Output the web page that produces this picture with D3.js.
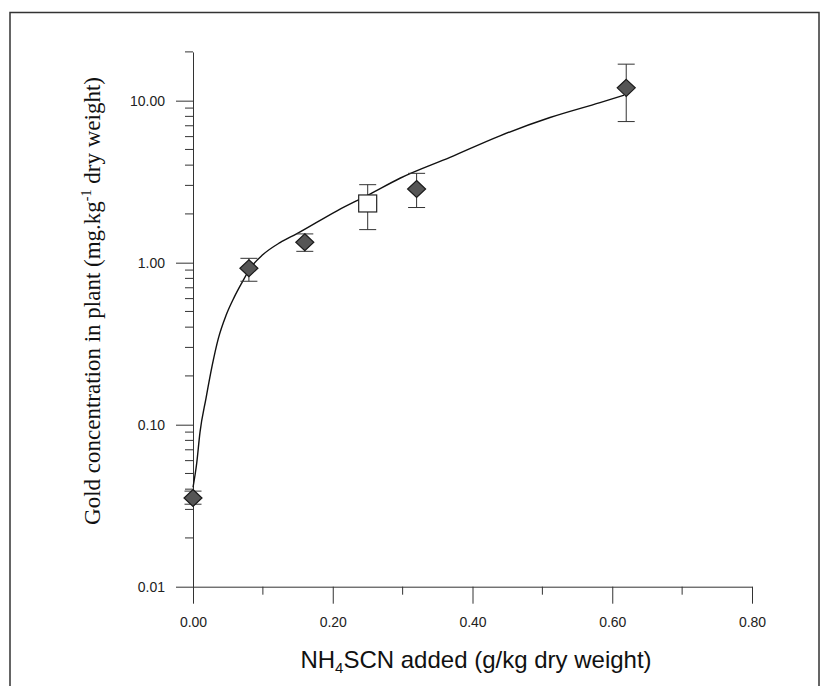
<!DOCTYPE html>
<html>
<head>
<meta charset="utf-8">
<script src="https://cdn.jsdelivr.net/npm/d3@7"></script>
<style>
  body { margin: 0; background: #fff; }
  svg { display: block; }
  .tick text { font-family: "Liberation Sans", Arial, sans-serif; font-size: 14px; fill: #222; }
  .domain, .tick line { stroke: #333; stroke-width: 1; }
</style>
</head>
<body>
<div id="chart"></div>
<script>
// NH4SCN added (g/kg) vs gold in plant (mg/kg), diamonds
const doseX   = [0, 0.08, 0.16, 0.32, 0.62];
const goldY   = [0.0353, 0.924, 1.336, 2.85, 12.0];
const goldLo  = [0.0323, 0.768, 1.175, 2.19, 7.43];
const goldHi  = [0.0389, 1.064, 1.505, 3.56, 16.8];

// the single open square
const sqX  = [0.25];
const sqY  = [2.32];
const sqLo = [1.60];
const sqHi = [3.03];

// fitted curve
const fitX = [0, 0.0053, 0.010, 0.0186, 0.0272, 0.0362, 0.0472, 0.0587, 0.0701, 0.0816, 0.1002,
              0.1245, 0.1488, 0.2061, 0.2533, 0.2962, 0.3678, 0.4393, 0.5109, 0.5825, 0.6168];
const fitY = [0.041, 0.0578, 0.0897, 0.1455, 0.229, 0.340, 0.472, 0.609, 0.754, 0.920, 1.122,
              1.33, 1.51, 2.09, 2.65, 3.32, 4.47, 6.07, 7.87, 9.73, 10.81];

const xTicks = [0, 0.2, 0.4, 0.6, 0.8];
const xMinor = [0.1, 0.3, 0.5, 0.7];
const yTicks = [0.01, 0.1, 1, 10];
const yMinor = [0.02, 0.03, 0.04, 0.05, 0.06, 0.07, 0.08, 0.09,
                0.2, 0.3, 0.4, 0.5, 0.6, 0.7, 0.8, 0.9,
                2, 3, 4, 5, 6, 7, 8, 9, 20];

const W = 825, H = 686;
const svg = d3.select('#chart').append('svg')
  .attr('width', W)
  .attr('height', H);

// outer frame of the figure
svg.append('rect')
  .attr('x', 10).attr('y', 12.5)
  .attr('width', 809).attr('height', 700)
  .attr('fill', 'none')
  .attr('stroke', '#333')
  .attr('stroke-width', 1.5);

const x = d3.scaleLinear().domain([0, 0.8]).range([193, 752]);
const y = d3.scaleLog().domain([0.01, 20]).range([586.7, 51.9]);

// axes
const xAxis = svg.append('g')
  .attr('transform', `translate(0,${y(0.01)})`)
  .call(d3.axisBottom(x).tickValues(xTicks).tickFormat(d3.format('.2f'))
    .tickSize(17).tickPadding(13).tickSizeOuter(0));
xAxis.selectAll('.minor').data(xMinor).enter().append('line')
  .attr('class', 'minor')
  .attr('x1', d => x(d)).attr('x2', d => x(d))
  .attr('y1', 0).attr('y2', 8)
  .attr('stroke', '#333');

const yAxis = svg.append('g')
  .attr('transform', `translate(${x(0)},0)`)
  .call(d3.axisLeft(y).tickValues(yTicks).tickFormat(d3.format('.2f'))
    .tickSize(17).tickPadding(11).tickSizeOuter(0));
yAxis.selectAll('.minor').data(yMinor).enter().append('line')
  .attr('class', 'minor')
  .attr('y1', d => y(d)).attr('y2', d => y(d))
  .attr('x1', 0).attr('x2', -8)
  .attr('stroke', '#333');

// fitted curve
const fit = fitX.map((d, i) => [d, fitY[i]]);
svg.append('path')
  .datum(fit)
  .attr('fill', 'none')
  .attr('stroke', '#111')
  .attr('stroke-width', 1.4)
  .attr('d', d3.line().x(d => x(d[0])).y(d => y(d[1])).curve(d3.curveMonotoneX));

// error bars
function errorBars(xs, lo, hi) {
  const g = svg.append('g').attr('stroke', '#333').attr('stroke-width', 1);
  xs.forEach((d, i) => {
    g.append('line').attr('x1', x(d)).attr('x2', x(d)).attr('y1', y(lo[i])).attr('y2', y(hi[i]));
    g.append('line').attr('x1', x(d) - 8.5).attr('x2', x(d) + 8.5).attr('y1', y(lo[i])).attr('y2', y(lo[i]));
    g.append('line').attr('x1', x(d) - 8.5).attr('x2', x(d) + 8.5).attr('y1', y(hi[i])).attr('y2', y(hi[i]));
  });
}
errorBars(doseX, goldLo, goldHi);
errorBars(sqX, sqLo, sqHi);

// diamonds
svg.append('g').selectAll('path')
  .data(doseX.map((d, i) => [d, goldY[i]]))
  .enter().append('path')
  .attr('transform', d => `translate(${x(d[0])},${y(d[1])})`)
  .attr('d', 'M0,-8.5L9,0L0,8.5L-9,0Z')
  .attr('fill', '#555')
  .attr('stroke', '#1a1a1a')
  .attr('stroke-width', 1.2);

// open square
svg.append('g').selectAll('rect')
  .data(sqX.map((d, i) => [d, sqY[i]]))
  .enter().append('rect')
  .attr('x', d => x(d[0]) - 9)
  .attr('y', d => y(d[1]) - 8.5)
  .attr('width', 18).attr('height', 17)
  .attr('fill', '#fff')
  .attr('stroke', '#222')
  .attr('stroke-width', 1.2);

// axis titles
const xt = svg.append('text')
  .attr('x', 476).attr('y', 668)
  .attr('text-anchor', 'middle')
  .attr('font-family', '"Liberation Sans", Arial, sans-serif')
  .attr('font-size', 24)
  .attr('fill', '#111');
xt.append('tspan').text('NH');
xt.append('tspan').attr('font-size', 15).attr('dy', 5).text('4');
xt.append('tspan').attr('dy', -5).text('SCN added (g/kg dry weight)');

const yt = svg.append('text')
  .attr('transform', 'translate(100,301) rotate(-90)')
  .attr('text-anchor', 'middle')
  .attr('font-family', '"Liberation Serif", "Times New Roman", serif')
  .attr('font-size', 23)
  .attr('fill', '#111');
yt.append('tspan').text('Gold concentration in plant (mg.kg');
yt.append('tspan').attr('font-size', 14).attr('dy', -9).text('-1');
yt.append('tspan').attr('dy', 9).text(' dry weight)');
</script>
</body>
</html>
